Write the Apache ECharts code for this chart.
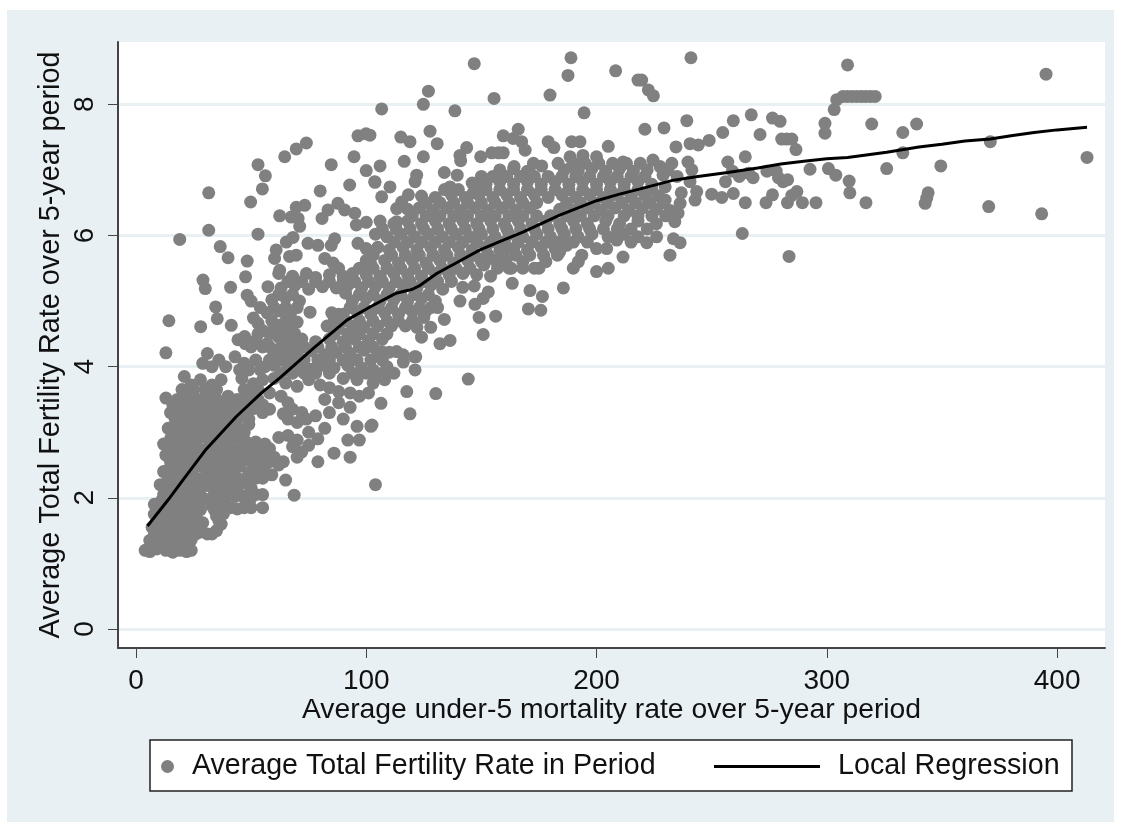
<!DOCTYPE html>
<html><head><meta charset="utf-8">
<script src="https://cdn.jsdelivr.net/npm/echarts@6/dist/echarts.min.js"></script>
<style>html,body{margin:0;padding:0;background:#fff}#c{width:1121px;height:825px}</style>
</head><body><div id="c"></div>
<script>
const xTicks=[0,100,200,300,400];
const yTicks=[0,2,4,6,8];
const xTitle='Average under-5 mortality rate over 5-year period';
const yTitle='Average Total Fertility Rate over 5-year period';
const scatterName='Average Total Fertility Rate in Period';
const lineName='Local Regression';

const lowPoints=[[4,1.2],[6,1.18],[9,1.22],[13,1.2],[16,1.17],[19,1.2],[22,1.18],[24,1.2],[6,1.35],[9,1.4],[12,1.33],[15,1.38],[18,1.32],[21,1.4],[24,1.36],
[7,1.55],[10,1.5],[13,1.58],[16,1.5],[19,1.55],[22,1.48],[25,1.55],[28,1.48],[31,1.45],[35,1.5],[37,1.6],[8,1.75],[11,1.7],[14,1.78],[17,1.68],[20,1.75],[23,1.7],[26,1.78],[29,1.62],[35,1.72],[38,1.76],[41,1.85],[44,1.83],[47,1.85],[50,1.85],[55,1.85],[55,2.05],
[8,1.9],[11,1.95],[14,1.88],[17,1.97],[20,1.9],[23,1.95],[26,1.9],[30,1.98],[33,1.88],[36,1.95],[39,2.0],[43,2.02],[47,2.0],[50,2.0],[10.5,2.2],[13,2.2],[16,2.12],[19,2.2],[22,2.15],[25,2.22],[28,2.13],[32,2.18],[35,2.12],[38,2.2],[42,2.18],[46,2.22],[50,2.15],
[12,2.4],[15,2.47],[18,2.38],[21,2.45],[24,2.4],[27,2.48],[31,2.38],[34,2.45],[37,2.4],[41,2.42],[45,2.48],[49,2.38],[52,2.45],[56,2.4],[59,2.35],[13,2.65],[16,2.7],[19,2.62],[22,2.68],[26,2.62],[29,2.7],[33,2.62],[36,2.68],[40,2.63],[44,2.7],[48,2.62],[52,2.68],[56,2.6],[60,2.62],
[12,2.82],[15,2.9],[18,2.85],[21,2.92],[24,2.85],[28,2.92],[32,2.85],[36,2.92],[40,2.86],[44,2.92],[48,2.85],[52,2.85],[56,2.82],[14,3.06],[17,3.1],[20,3.05],[24,3.12],[28,3.05],[32,3.13],[36,3.06],[40,3.12],[45,3.05],[49,3.12],
[15,3.3],[18,3.35],[22,3.28],[26,3.35],[30,3.28],[34,3.35],[38,3.3],[42,3.36],[47,3.3],[51,3.36],[55,3.3],[13,3.52],[18,3.5],[23,3.55],[27,3.5],[31,3.57],[35,3.5],[40,3.55],[44,3.5],[49,3.56],[53,3.5],
[21,3.85],[24,3.72],[28,3.8],[33,3.72],[37,3.8],[46,3.82],[51,3.74],[55,3.8],[13,4.21],[31,4.2],[29,4.05],[33,4.0],[36,4.1],[39,4.0],[43,4.15],[47,4.05],[52,4.1],[56,4.0]];

const midPoints=[[62,2.5],[65,2.27],[70,2.62],[79,2.55],[68.7,2.04],[64,2.55],[68,2.78],[72,2.7],[75,2.8],[86,2.68],[93,2.62],[62,2.92],[66,2.95],[70,2.88],[75,3.0],[79,2.9],[92,2.88],[97,2.88],[66,3.2],[70,3.15],[74,3.2],[82,3.06],[96,3.09],[102,3.09],[104,2.2],
[58,3.35],[64,3.28],[68,3.35],[72,3.3],[78,3.25],[84,3.3],[90,3.2],[88,3.45],[93,3.38],[58,3.6],[63,3.55],[66,3.45],[82,3.5],[84,3.68],[88,3.62],[93,3.6],[97,3.55],[101,3.6],[60,3.82],[65,3.75],[70,3.7],[75,3.8],[80,3.72],[90,3.82],[96,3.8],[103,3.75],[108,3.8],[60,4.02],[66,3.98],[71,4.0],[76,3.96],[81,4.02],[86,3.98],[92,4.02],[98,3.98],[103,3.95],[109,4.0],
[60,4.2],[65,4.22],[70,4.18],[76,4.24],[82,4.18],[87,4.22],[93,4.2],[99,4.25],[105,4.2],[110,4.22],[116,4.18],[121,4.15],[47.5,4.35],[52,4.4],[57,4.35],[62,4.45],[67,4.4],[72,4.42],[78,4.38],[84,4.42],[90,4.38],[95,4.42],[101,4.4],[107,4.42],[124,4.45],
[51,4.74],[53,4.66],[55,4.55],[60,4.62],[62.5,4.63],[66,4.6],[70,4.68],[83,4.62],[88,4.58],[94,4.62],[99,4.6],[105,4.62],[111,4.62],[117,4.62],[122,4.6],[125,4.75],[128,4.6],[54,4.9],[50,5.0],[57,4.82],[62,4.85],[67,4.8],[75.6,4.83],[85,4.82],[88,4.8],[90,4.8],[93,4.9],[96,4.84],[102,4.8],[108,4.82],[114,4.8],[120,4.84],[126,4.85],[131,4.9],[133.9,4.72],
[59,5.02],[65,5.05],[71,5.0],[91,5.12],[94,5.0],[100,5.04],[106,5.0],[112,5.02],[118,5.0],[124,5.04],[130,5.0],[57.3,5.22],[63,5.2],[69,5.24],[75,5.18],[81,5.22],[87,5.2],[92,5.24],[98,5.2],[104,5.22],[110,5.2],[116,5.24],[122,5.2],[128,5.24],
[62,5.42],[68,5.38],[74,5.42],[78,5.36],[84,5.4],[90,5.38],[94,5.42],[100,5.4],[106,5.38],[112,5.42],[118,5.4],[124,5.38],[130,5.42],[136,5.4],[142,5.42],[148,5.4],[154,5.38],[100,5.62],[102,5.56],[108,5.62],[114,5.58],[120,5.62],[126,5.58],[132,5.62],[138,5.58],[144,5.62],[150,5.6],[156,5.62],[160.7,5.62],[162,5.5],[168,5.6],[173,5.5],[178,5.6]];

const upperPoints=[[100,5.8],[105,5.82],[110,5.78],[116,5.82],[122,5.78],[128,5.82],[134,5.78],[140,5.82],[146,5.78],[152,5.82],[158,5.78],[164,5.8],[170,5.78],[176,5.82],[182,5.8],[160.3,5.78],[104,6.02],[109,5.98],[115,6.02],[121,5.98],[127,6.02],[133,5.98],[139,6.02],[145,5.98],[150,6.02],[156,5.98],[162,6.02],[168,5.98],[174,6.02],[180,5.98],[186,6.02],[192,5.98],[198,6.02],[205,5.98],[212,6.02],[218,5.98],
[100,6.2],[106,6.22],[112,6.18],[118,6.22],[124,6.18],[130,6.22],[136,6.18],[142,6.22],[148,6.18],[154,6.22],[160,6.18],[166,6.22],[172,6.18],[178,6.22],[184,6.18],[190,6.22],[196,6.18],[204,6.22],[210,6.18],[218,6.22],[226,6.18],[118,6.4],[123,6.42],[129,6.38],[135,6.42],[141,6.38],[147,6.42],[153,6.38],[159,6.42],[165,6.38],[171,6.42],[184,6.4],[190,6.38],[196,6.42],[202,6.38],[208,6.42],[214,6.38],[220,6.42],[226,6.4],[232,6.38],
[124,6.6],[130,6.58],[137,6.62],[143,6.58],[149,6.62],[155,6.58],[161,6.62],[167,6.58],[173,6.62],[179,6.58],[185,6.62],[191,6.58],[197,6.62],[203,6.58],[209,6.62],[215,6.58],[221,6.62],[227,6.6],[146,6.8],[152,6.78],[158,6.82],[164,6.78],[170,6.82],[176,6.78],[182,6.82],[188,6.78],[194,6.82],[200,6.78],[206,6.82],[212,6.78],[218,6.82],[224,6.78],[158,7.0],[164,7.02],[170,6.98],[186,7.0],[192,6.98],[198,7.02],[204,6.98],[210,7.02],[216,6.98],[222,7.0]];

const sparsePoints=[[241,8.71],[309,8.6],[395.2,8.46],[413,7.19],[393.3,6.33],[370.3,6.44],[371,7.43],[349.5,7.06],[339,7.7],[333,7.57],[333,7.26],[326,7.02],[344,6.65],[343.4,6.57],[342.7,6.49],[319.5,7.7],[317,6.5],[310,6.65],[309.7,6.83],[303.9,6.92],[300.7,7.02],[292.7,7.01],[295.3,6.5],[289.4,6.5],[287,6.67],[282.9,6.5],[284.8,6.61],[276.4,6.62],[273.6,6.5],[264.6,6.5],[259.4,6.64],[254.4,6.58],[250,6.63],[263.3,6.03],[283.6,5.68],[299.2,7.71],[299.2,7.56],[303.2,7.92],[304.3,8.07],
[286.6,7.31],[284.8,7.47],[280.4,7.47],[282.6,7.47],[271,7.54],[279.7,7.74],[276.4,7.79],[267.2,7.84],[259.4,7.75],[254.8,7.57],[248.9,7.45],[244.2,7.38],[240.6,7.4],[234.5,7.35],[239.2,7.75],[229.3,7.64],[221,7.62],[224.7,8.13],[222.5,8.22],[219.6,8.37],[264.6,7.2],
[257,7.12],[259,6.98],[268,6.88],[266,6.95],[262,6.9],[256,6.82],[274,6.98],[278,6.98],[279,6.88],[283,6.85],[281,6.82],[233.4,5.95],[236.3,5.89],[231.9,5.7],[226.1,5.98],[221.8,5.89],[234,6.21],[235.4,6.34],[236.3,6.49],[236.8,6.65],[229.8,6.54],[222.8,6.51],[243.5,6.67],[242.8,6.54],[240.6,6.82],[239.7,7.12],[241.4,7],[224.5,7.15],[227.6,7.05],[232.7,7.1],[231,7],[228.9,6.92],[229.8,6.74],
[146.9,8.62],[188.9,8.71],[187.6,8.44],[208.3,8.51],[218,8.37],[127,8.2],[124.8,8],[106.7,7.93],[138.5,7.9],[155.5,8.09],[179.8,8.14],[194.6,7.87],[127.7,7.59],[130.8,7.4],[115,7.5],[119,7.43],[159.5,7.52],[166,7.62],[163.8,7.48],[167.5,7.43],[169,7.3],[179,7.43],[181.5,7.34],[189.2,7.43],[192.8,7.43],[205.1,7.36],[143.6,7.34],[140.7,7.22],[141,7.14],[149.7,7.2],[154.5,7.26],[157.4,7.26],[159.5,7.26],[124.8,7.2],[116.5,7.13],[106,7.06],[101.6,7.53],[133.9,6.96],[164.2,7.05],[171,6.95],[172.6,7.1],[176.2,7.06],[183.3,7.1],[188.5,7.2],[189.2,7.05],[194.1,7.22],[200,7.2],[211.5,7.12],[121.9,6.92],[121.2,6.82],[139.5,6.92],[136.4,6.74],[146.4,6.65],[150,6.9],[149.4,6.74],[103.8,6.81],[110.3,6.74],[106.7,6.59],[118.3,6.62],[115.4,6.51],[113.2,6.41],[113.2,6.21],
[31.6,6.65],[53,7.08],[56.2,6.91],[54.9,6.71],[49.8,6.51],[64.6,7.2],[69.6,7.32],[74,7.41],[84.8,7.08],[94.7,7.2],[96.4,7.52],[99.9,7.55],[100,6.99],[103.7,6.82],[92.8,6.77],[80,6.68],[31.6,6.08],[19,5.94],[53,6.02],[36.6,5.83],[40,5.66],[48.3,5.61],[47.6,5.37],[48.3,5.09],[41.1,5.21],[29.1,5.32],[30.1,5.19],[34.6,4.91],[35.3,4.73],[14.3,4.7],[28.1,4.61],[41.4,4.63],[47.2,4.46],[44.3,4.41],
[73.3,6.46],[69.6,6.43],[62.4,6.3],[67.4,6.28],[70.4,6.26],[71.1,6.14],[83.4,6.39],[80.8,6.26],[87.7,6.49],[90.6,6.39],[95,6.34],[95.7,6.16],[68.2,5.97],[65.3,5.9],[74.7,5.88],[79,5.85],[86.3,5.95],[84.8,5.85],[96.4,5.88],[69.6,5.7],[66.7,5.68],[82,5.65],[85.6,5.58],[60.9,5.78],[60.2,5.65],[62.4,5.47],
[144.3,3.81],[117.6,3.62],[130.2,3.59],[119,3.28],[106.4,3.44],[102.5,3.11],[121.5,4.15],[121.2,3.95],[116.1,4.07],[113.2,4.23],[106.7,4.23],[105,3.87],[107,3.9],[150.8,4.49],[149,4.75],[156.2,4.77],[132,4.35],[136.4,4.4],[140.7,5],[147.2,4.95],[150.8,5.04],[153,5.14],[141.9,5.21],[146.9,5.23],[133.2,5.18],[163.4,5.27],[171.1,5.16],[176.5,5.07],[170.4,4.88],[175.8,4.86],[185.6,5.2],[192.1,5.6],[189.9,5.5],[193.6,5.7],[200,5.45],[205.1,5.5],[200,5.8],[204.4,5.8],[211.5,5.67],[208.8,5.93],[151.1,5.55],[151.1,5.65],[184,5.75],[187,5.85]];

const plateauPoints=[[307,8.12],[309,8.12],[311,8.12],[313,8.12],[315,8.12],[317,8.12],[319,8.12],[321,8.12]];

const denseRowsLow=[[1.28,[10.5,14,17.5,20.5]],[1.45,[8,11,14,17,20,23,26,33]],[1.65,[9,12,15,18,21,24,27,36]],[1.82,[10,13,16,19,22,25,28,34,37]],[2.05,[12,15,18,21,24,27,34,37,41,45,49,52]],[2.3,[14,17,20,23,26,29,33,36,40,44,48,52,55]],[2.55,[15,18,21,24,27,31,35,38,42,46,50,54,58]],[2.75,[14,17,20,24,27,31,34,38,42,46,50,54,58]],[3.0,[16,19,22,26,30,34,38,42,47]],[3.2,[17,20,24,28,32,36,40,44,49]],[3.42,[16,20,25,29,33,37,41,46,50,55]],[3.65,[20,25,30,35,47,53]],[3.95,[45,49,54]]];
const denseRowsMid=[[3.9,[63,68,73,78,84,94,100,112]],[4.1,[58,63,68,73,79,84,90,96,102,107]],[4.3,[50,55,58,63,68,73,79,85,91,97,103]],[4.5,[53,58,64,69,86,92,97,103,109]],[4.7,[59,65,86,91,97,103,109,114,120]],[4.9,[60,65,70,99,105,111,117,123,128]],[5.1,[62,68,97,103,109,115,121,127]],[5.3,[66,72,78,84,90,95,101,107,113,119,125,131,137]],[5.5,[88,97,103,109,115,121,127,133,139,145,157,163,168,175]],[5.7,[103,111,117,123,129,135,141,147,153,159,165,171,177,183]]];
const denseRowsUpper=[[5.9,[112,118,124,130,136,142,148,154,160,166,172,178,184,190,196,215]],[6.1,[107,113,119,125,131,137,143,149,155,161,167,173,179,185,191,197,203,209,215,222]],[6.3,[120,126,132,138,144,150,156,162,168,174,180,187,193,199,205,212,218,224,230]],[6.5,[126,132,138,144,150,156,162,168,174,187,193,199,205,211,217,223,229]],[6.7,[134,140,152,158,164,170,176,182,188,194,200,206,212,218,224]],[6.9,[155,161,167,173,179,185,191,197,203,209,215,221,235]],[7.1,[190,195,201,207,213,219]]];
const denseFromRows=rows=>rows.flatMap(([y,xs])=>xs.map(x=>[x,y]));

const regressionLine=[[5,1.57],[14,1.97],[21,2.3],[30,2.72],[43.6,3.24],[54.5,3.6],[62.5,3.83],[77,4.28],[91.6,4.71],[101.6,4.91],[113,5.12],[120,5.18],[123,5.23],[130.6,5.42],[140,5.6],[149.4,5.78],[159.5,5.93],[168,6.05],[184,6.31],[200,6.53],[210,6.63],[219,6.71],[233,6.84],[244,6.9],[257,6.96],[270,7.03],[280,7.09],[290,7.13],[300,7.17],[309,7.19],[326,7.27],[340,7.35],[350,7.39],[360,7.44],[371,7.47],[380,7.52],[390,7.57],[400,7.61],[413,7.65]];

const FONT='"Liberation Sans",Arial,sans-serif';
const chart=echarts.init(document.getElementById('c'),null,{renderer:'canvas'});
chart.setOption({
  animation:false,
  backgroundColor:'#ffffff',
  textStyle:{fontFamily:FONT},
  graphic:[
    {type:'rect',z:-10,silent:true,shape:{x:7,y:10,width:1107,height:812},style:{fill:'#e8f0f3'}},
    {type:'rect',z:-5,silent:true,shape:{x:150,y:740,width:922,height:51},style:{fill:'#fff',stroke:'#222',lineWidth:1.5}}
  ],
  grid:{left:118,top:42,width:987,height:606,show:true,backgroundColor:'#fff',borderWidth:0},
  xAxis:{type:'value',min:-7.8,max:420.8,
    name:xTitle,nameLocation:'middle',nameGap:48,nameMoveOverlap:false,nameTextStyle:{fontSize:28.3,color:'#111',fontFamily:FONT},
    axisLine:{show:true,onZero:false,lineStyle:{color:'#444',width:2}},
    axisTick:{show:true,length:10,lineStyle:{color:'#444',width:1},customValues:xTicks},
    axisLabel:{fontSize:28,color:'#111',margin:19,customValues:xTicks,fontFamily:FONT},
    splitLine:{show:false}},
  yAxis:{type:'value',min:-0.29,max:8.95,
    name:yTitle,nameLocation:'middle',nameGap:52,nameMoveOverlap:false,nameRotate:90,nameTextStyle:{fontSize:28.8,color:'#111',fontFamily:FONT},
    axisLine:{show:true,onZero:false,lineStyle:{color:'#444',width:2}},
    axisTick:{show:true,length:10,lineStyle:{color:'#444',width:1},customValues:yTicks},
    axisLabel:{fontSize:28,color:'#111',rotate:90,margin:19,customValues:yTicks,fontFamily:FONT},
    splitLine:{show:true,lineStyle:{color:'#e8f0f3',width:3}}},
  legend:[
    {left:161,top:752,itemWidth:13,itemHeight:13,padding:0,data:[{name:scatterName,icon:'circle'}],textStyle:{fontSize:28.6,color:'#111',padding:[0,0,0,13],fontFamily:FONT},selectedMode:false},
    {left:714,top:752,itemWidth:106,itemHeight:3,padding:0,data:[{name:lineName,icon:'rect',itemStyle:{color:'#000'}}],textStyle:{fontSize:28.7,color:'#111',padding:[0,0,0,13],fontFamily:FONT},selectedMode:false}
  ],
  series:[
    {name:scatterName,type:'scatter',symbol:'circle',symbolSize:13,silent:true,itemStyle:{color:'#808080',opacity:1},
     data:[...lowPoints,...midPoints,...upperPoints,...sparsePoints,...plateauPoints,...denseFromRows(denseRowsLow),...denseFromRows(denseRowsMid),...denseFromRows(denseRowsUpper)],z:2},
    {name:lineName,type:'line',symbol:'none',silent:true,lineStyle:{color:'#000',width:3},itemStyle:{color:'#000'},data:regressionLine,z:3}
  ]
});
</script></body></html>
